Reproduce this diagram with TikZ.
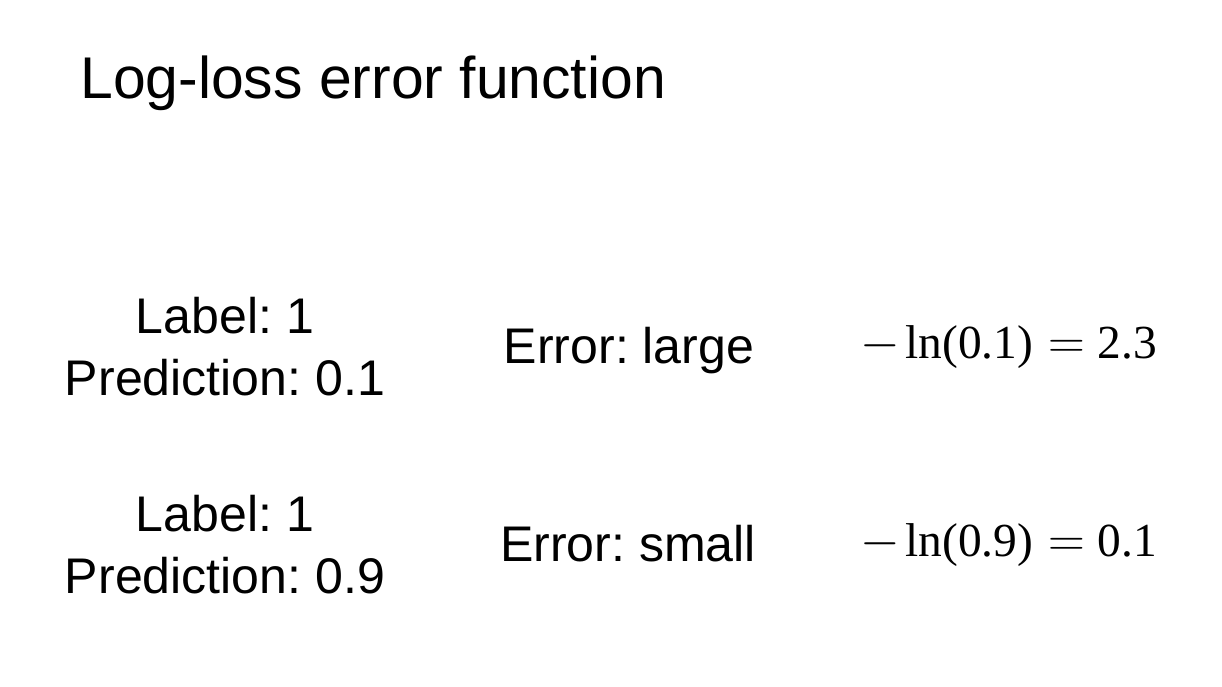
\RequirePackage{fix-cm}
\documentclass[tikz,border=0pt]{standalone}
\usepackage{fontspec}
\setmainfont{Liberation Sans}
\newfontfamily\formulafont{Liberation Serif}
\newcommand{\bigsym}[1]{{\fontsize{29}{34}\selectfont$#1$}}

\begin{document}
\frenchspacing
\begin{tikzpicture}[x=0.02cm,y=-0.02cm,
  txt/.style={inner sep=0pt,anchor=base,font=\fontsize{28.5}{34}\selectfont\frenchspacing},
  formula/.style={inner sep=0pt,anchor=base west,font=\fontsize{27}{32}\selectfont\formulafont}]
            \path[use as bounding box,fill=white] (0,0) rectangle (1222,686);

            \node[inner sep=0pt,anchor=base west,font=\fontsize{33.5}{40}\selectfont] (title) at (80,98) {Log-loss error function};

            % first row
            \node[txt] (label1) at (225,333) {Label: 1};
            \node[txt] (pred1) at (225,395) {Prediction: 0.1};
            \node[txt] (err1) at (629,363) {Error: large};
            \node[formula] (ln1) at (860,358) {\bigsym{-}\hspace{0.11cm}ln(0.1)\hspace{0.3cm}\bigsym{=}\hspace{0.25cm}2.3};

            % second row
            \node[txt] (label2) at (225,531) {Label: 1};
            \node[txt] (pred2) at (225,593) {Prediction: 0.9};
            \node[txt] (err2) at (628,561) {Error: small};
            \node[formula] (ln2) at (860,556) {\bigsym{-}\hspace{0.11cm}ln(0.9)\hspace{0.3cm}\bigsym{=}\hspace{0.25cm}0.1};
        \end{tikzpicture}
\end{document}
